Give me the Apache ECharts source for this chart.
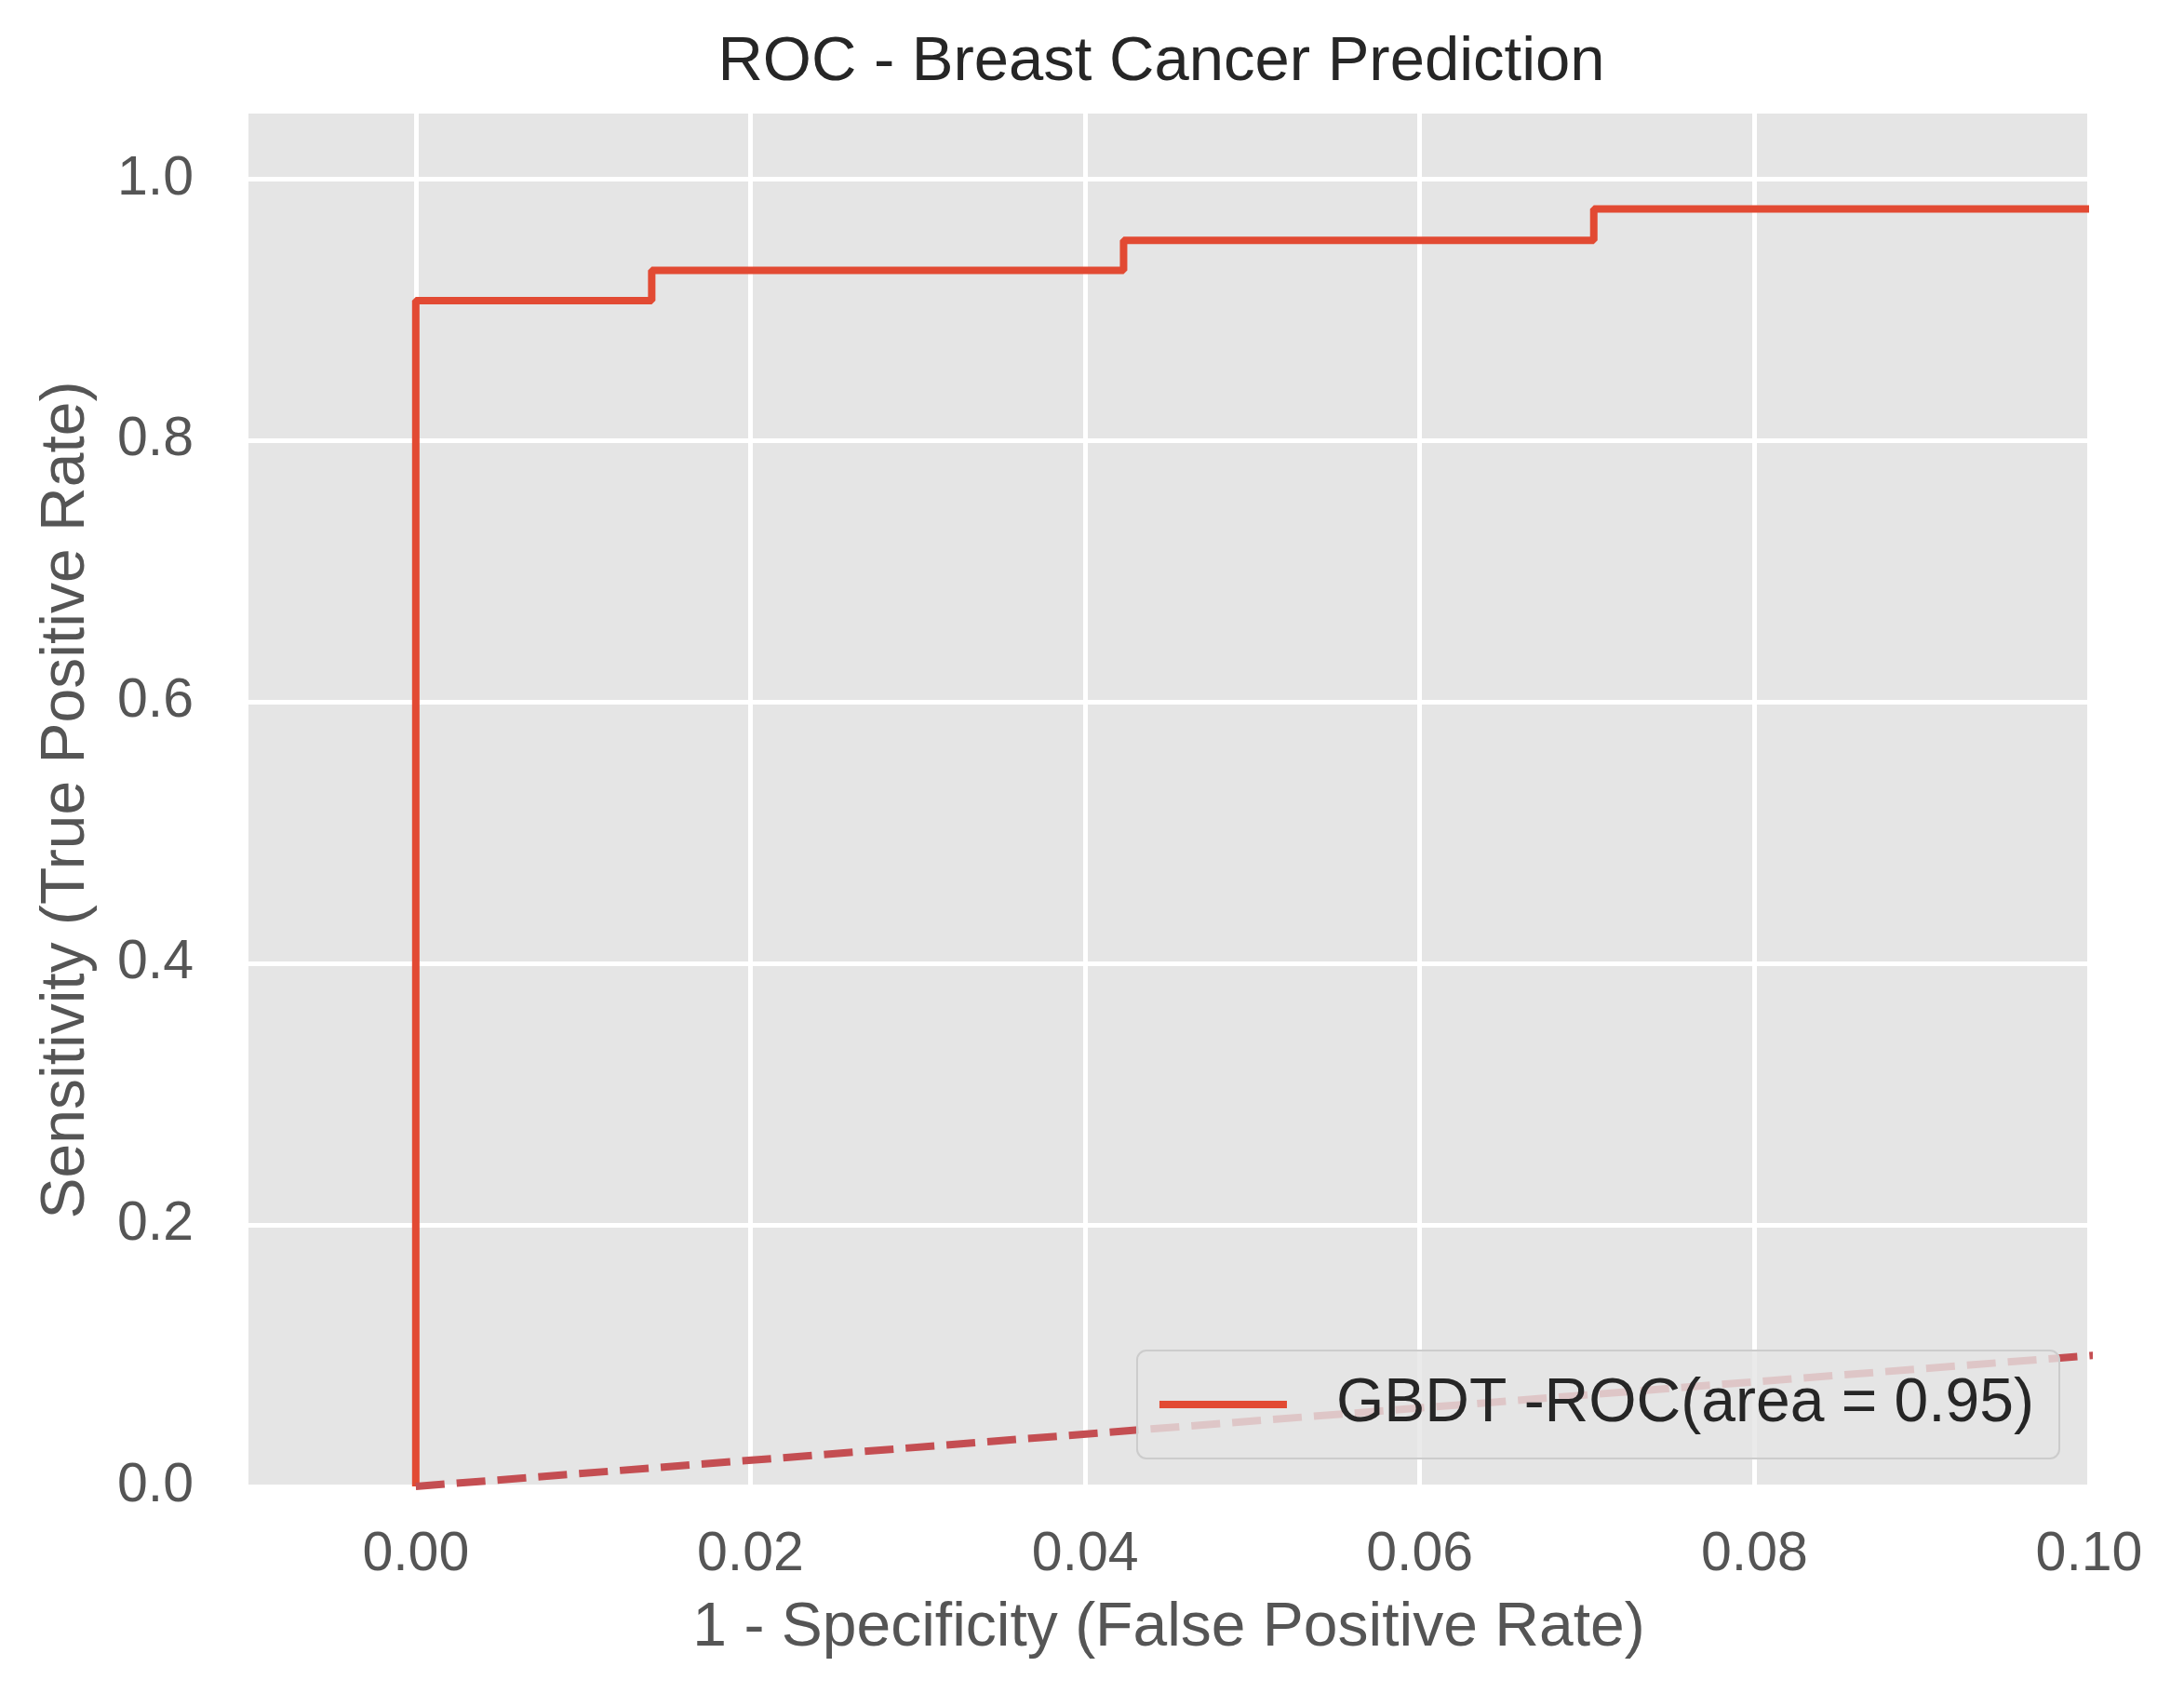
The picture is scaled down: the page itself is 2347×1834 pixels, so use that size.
<!DOCTYPE html>
<html>
<head>
<meta charset="utf-8">
<title>ROC - Breast Cancer Prediction</title>
<script src="https://cdn.jsdelivr.net/npm/echarts@6/dist/echarts.min.js"></script>
<style>
  html, body { margin: 0; padding: 0; background: #fff; }
  #chart { width: 2347px; height: 1834px; }
</style>
</head>
<body>
<div id="chart"></div>
<script>
// ROC curve points (false positive rate, true positive rate)
const rocFpr = [0, 0, 0.0141, 0.0141, 0.0423, 0.0423, 0.0704, 0.0704, 0.1];
const rocTpr = [0, 0.907, 0.907, 0.930, 0.930, 0.953, 0.953, 0.977, 0.977];
// chance diagonal
const diagX = [0, 1];
const diagY = [0, 1];
// tick values
const xTicks = [0, 0.02, 0.04, 0.06, 0.08, 0.1];
const yTicks = [0, 0.2, 0.4, 0.6, 0.8, 1.0];

const rocName = 'GBDT -ROC(area = 0.95)';
const font = 'Liberation Sans, Arial, Helvetica, sans-serif';

const chart = echarts.init(document.getElementById('chart'));

const option = {
  backgroundColor: '#ffffff',
  animation: false,
  title: {
    text: 'ROC - Breast Cancer Prediction',
    left: 1243,
    textAlign: 'center',
    top: 29,
    textStyle: { fontFamily: font, fontSize: 67, fontWeight: 'normal', color: '#262626' }
  },
  grid: {
    left: 267, right: 102, top: 122, bottom: 237,
    show: true, backgroundColor: '#e5e5e5', borderWidth: 0
  },
  legend: {
    data: [rocName],
    right: 134,
    bottom: 267,
    orient: 'vertical',
    icon: 'rect',
    itemWidth: 137,
    itemHeight: 8,
    padding: [25, 27, 25, 24],
    backgroundColor: 'rgba(229,229,229,0.8)',
    borderColor: '#cccccc',
    borderWidth: 2,
    borderRadius: 10,
    textStyle: { fontFamily: font, fontSize: 66, color: '#262626', padding: [0, 0, 0, 48] }
  },
  xAxis: {
    type: 'value',
    min: -0.01,
    max: 0.1,
    name: '1 - Specificity (False Positive Rate)',
    nameLocation: 'middle',
    nameGap: 120,
    nameTextStyle: { fontFamily: font, fontSize: 66, color: '#555555' },
    axisLine: { show: false },
    axisTick: { show: false, customValues: xTicks },
    axisLabel: {
      customValues: xTicks,
      margin: 44,
      fontFamily: font, fontSize: 59, color: '#555555',
      formatter: v => v.toFixed(2)
    },
    splitLine: { show: true, lineStyle: { color: '#ffffff', width: 5 } }
  },
  yAxis: {
    type: 'value',
    min: 0,
    max: 1.05,
    name: 'Sensitivity (True Positive Rate)',
    nameLocation: 'middle',
    nameGap: 162,
    nameTextStyle: { fontFamily: font, fontSize: 66, color: '#555555' },
    axisLine: { show: false },
    axisTick: { show: false, customValues: yTicks },
    axisLabel: {
      customValues: yTicks,
      margin: 59,
      fontFamily: font, fontSize: 59, color: '#555555',
      formatter: v => v.toFixed(1)
    },
    splitLine: { show: true, lineStyle: { color: '#ffffff', width: 5 } }
  },
  series: [
    {
      name: rocName,
      type: 'line',
      data: rocFpr.map((x, i) => [x, rocTpr[i]]),
      symbol: 'none',
      color: '#e24a33',
      lineStyle: { color: '#e24a33', width: 8 },
      z: 3
    },
    {
      name: 'diagonal',
      type: 'line',
      data: diagX.map((x, i) => [x, diagY[i]]),
      symbol: 'none',
      color: '#c44e52',
      lineStyle: { color: '#c44e52', width: 8, type: [31, 13] },
      z: 3
    }
  ]
};

chart.setOption(option);
</script>
</body>
</html>
